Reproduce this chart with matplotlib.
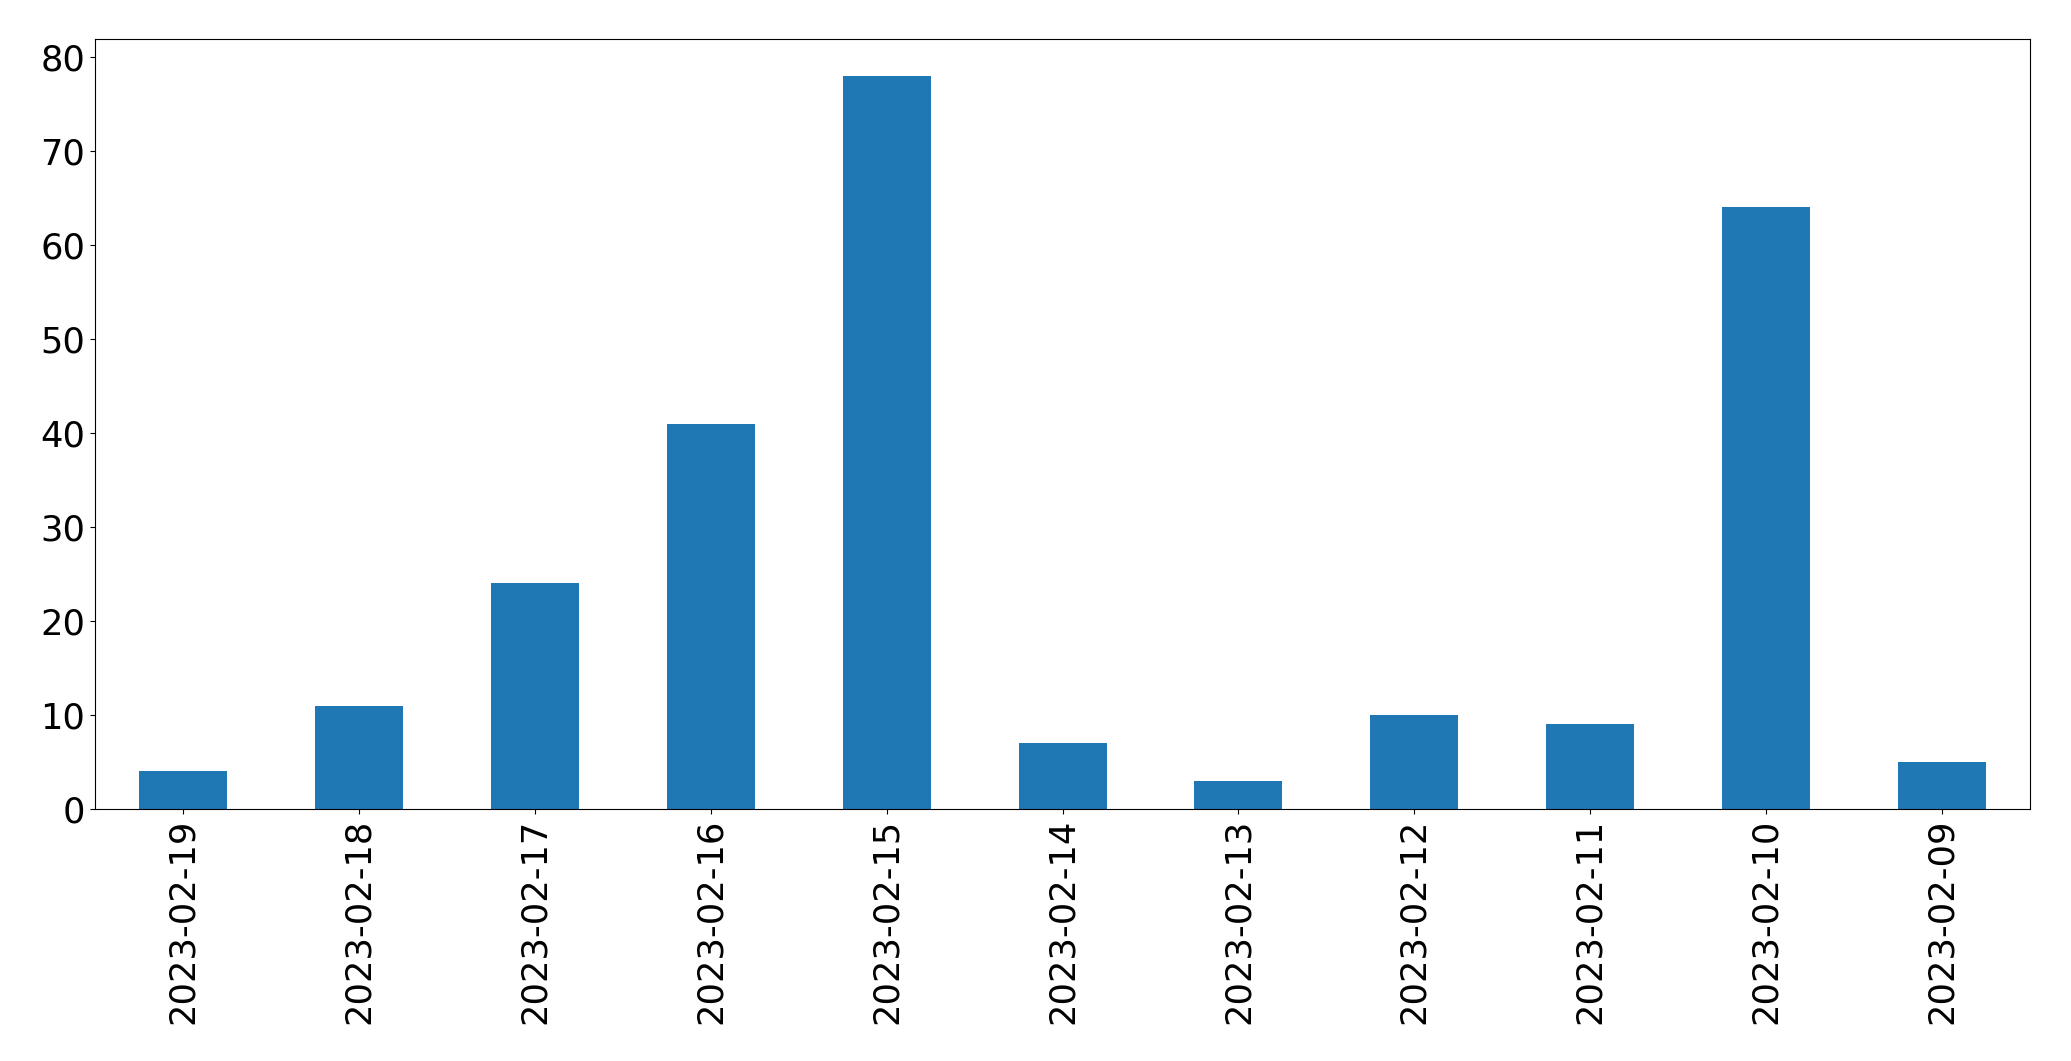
import matplotlib
matplotlib.use("Agg")
import matplotlib.pyplot as plt
import pandas as pd

dates = ["2023-02-19", "2023-02-18", "2023-02-17", "2023-02-16", "2023-02-15",
         "2023-02-14", "2023-02-13", "2023-02-12", "2023-02-11", "2023-02-10",
         "2023-02-09"]
counts = [4, 11, 24, 41, 78, 7, 3, 10, 9, 64, 5]

series = pd.Series(counts, index=dates)

fig = plt.figure(figsize=(20.71, 10.61), dpi=100)
ax = fig.add_axes([0.0459, 0.2375, 0.9802 - 0.0459, 0.963 - 0.2375])
series.plot(kind="bar", ax=ax, color="#1f77b4", fontsize=25.4)
ax.set_xlabel("")

fig.savefig("out.png", dpi=100)
